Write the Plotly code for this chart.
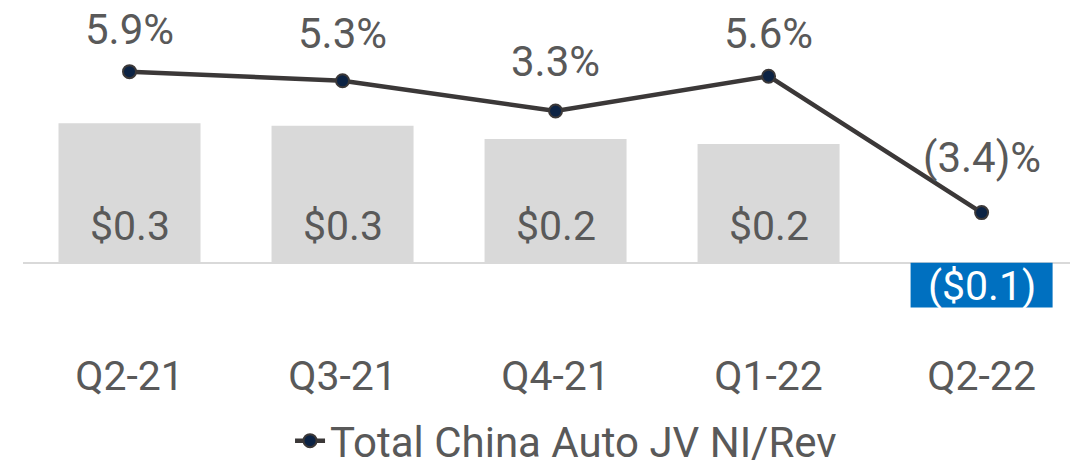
import plotly.graph_objects as go

# ---- data ----
quarters = ["Q2-21", "Q3-21", "Q4-21", "Q1-22", "Q2-22"]
jv_net_income = [0.276, 0.271, 0.245, 0.235, -0.089]   # $B
ni_rev_pct = [5.9, 5.3, 3.3, 5.6, -3.4]                # %
series_name = "Total China Auto JV NI/Rev"

# ---- style ----
FONT = "Roboto"
TXT = "#595959"
GRAY_BAR = "#d9d9d9"
NEG_BAR = "#0070c0"
LINE_C = "#3b3838"
MARK_C = "#0c2344"
pct_label_shift = [42, 47, 50, 43, 55]


def money(v):
    return f"${v:.1f}" if v >= 0 else f"(${abs(v):.1f})"


def pct(v):
    return f"{v:.1f}%" if v >= 0 else f"({abs(v):.1f})%"


fig = go.Figure()

fig.add_trace(go.Bar(
    x=quarters, y=jv_net_income,
    marker=dict(color=[GRAY_BAR if v >= 0 else NEG_BAR for v in jv_net_income], line=dict(width=0)),
    showlegend=False, hoverinfo="skip", yaxis="y",
))

fig.add_trace(go.Scatter(
    x=quarters, y=ni_rev_pct, name=series_name, mode="lines+markers",
    line=dict(color=LINE_C, width=4.5),
    marker=dict(color=MARK_C, size=13, line=dict(color=LINE_C, width=2)),
    yaxis="y2", hoverinfo="skip", cliponaxis=False,
))

annotations = []
for q, v in zip(quarters, jv_net_income):
    annotations.append(dict(
        x=q, y=0, xref="x", yref="y", text=money(v), showarrow=False,
        yanchor="middle", yshift=37 if v >= 0 else -23,
        font=dict(family=FONT, size=41, color=TXT if v >= 0 else "white"),
    ))
for q, v, s in zip(quarters, ni_rev_pct, pct_label_shift):
    annotations.append(dict(
        x=q, y=v, xref="x", yref="y2", text=pct(v), showarrow=False,
        yanchor="middle", yshift=s,
        font=dict(family=FONT, size=42, color=TXT),
    ))

fig.update_layout(
    width=1070, height=470,
    margin=dict(l=23, r=0, t=0, b=125, autoexpand=False),
    paper_bgcolor="white", plot_bgcolor="white",
    bargap=1/3,
    font=dict(family=FONT, color=TXT, size=40),
    xaxis=dict(range=[-0.5, 4.415], showgrid=False, showline=False, ticks="",
               tickfont=dict(family=FONT, size=41, color=TXT), zeroline=False,
               ticklabelstandoff=3),
    yaxis=dict(range=[-0.163, 0.520], showgrid=False, showticklabels=False,
               zeroline=True, zerolinecolor="#d9d9d9", zerolinewidth=2, showline=False),
    yaxis2=dict(range=[-12.14, 10.63], overlaying="y", side="right", showgrid=False,
                showticklabels=False, zeroline=False, showline=False),
    legend=dict(orientation="h", xref="container", yref="container",
                x=0.529, xanchor="center", y=0.062, yanchor="middle",
                font=dict(family=FONT, size=42, color=TXT), bgcolor="rgba(0,0,0,0)",
                tracegroupgap=0),
    annotations=annotations,
)

fig.write_html("out.html", config={"displayModeBar": False},
               post_script="document.body.style.margin='0';")
